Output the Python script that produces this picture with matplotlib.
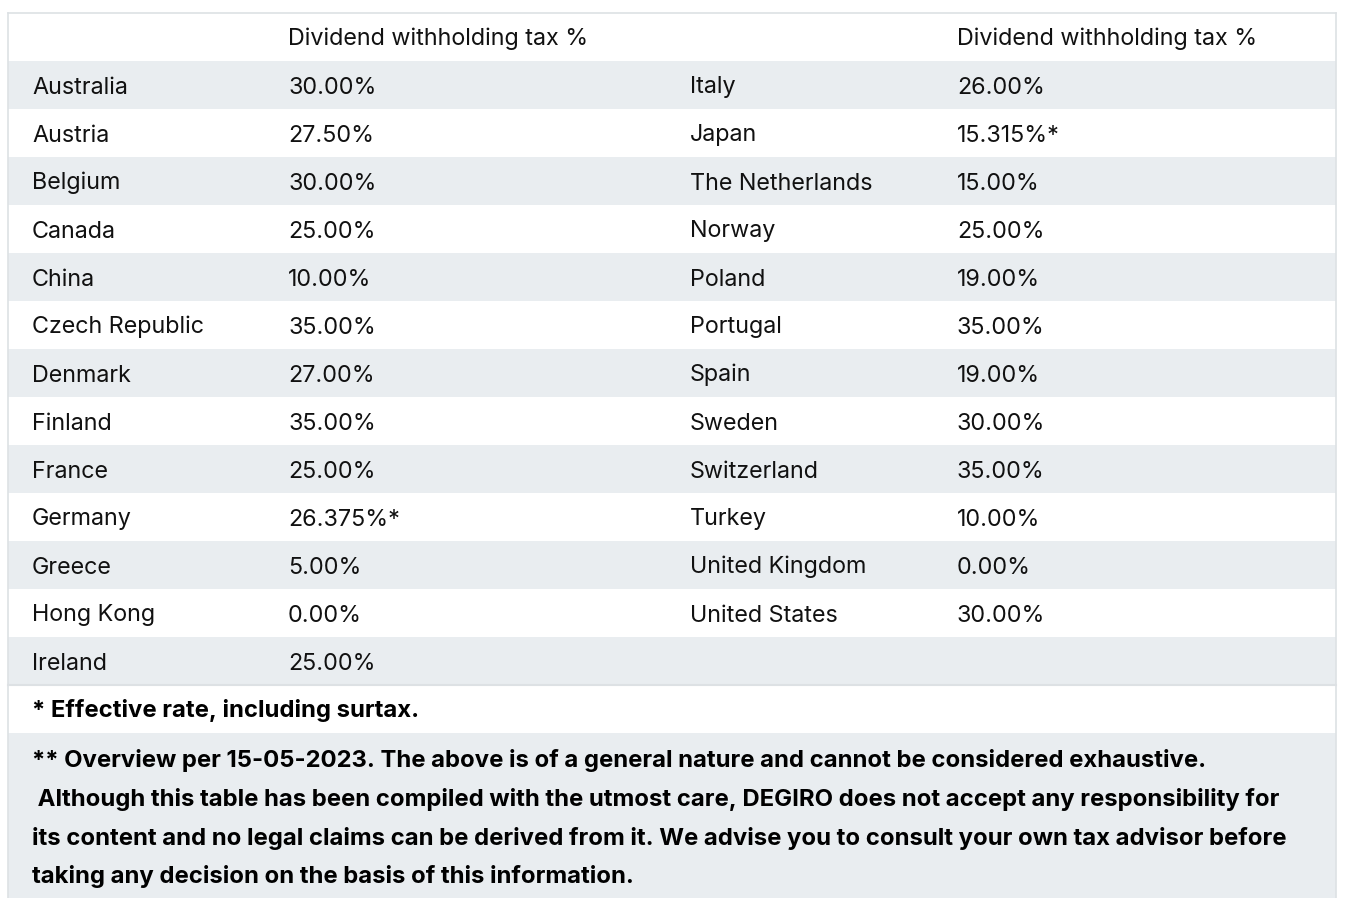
import matplotlib.pyplot as plt
from matplotlib.patches import Rectangle

plt.rcParams['font.family'] = ['Inter', 'DejaVu Sans']

header = 'Dividend withholding tax %'
left_countries = ['Australia', 'Austria', 'Belgium', 'Canada', 'China', 'Czech Republic',
                  'Denmark', 'Finland', 'France', 'Germany', 'Greece', 'Hong Kong', 'Ireland']
left_rates = ['30.00%', '27.50%', '30.00%', '25.00%', '10.00%', '35.00%',
              '27.00%', '35.00%', '25.00%', '26.375%*', '5.00%', '0.00%', '25.00%']
right_countries = ['Italy', 'Japan', 'The Netherlands', 'Norway', 'Poland', 'Portugal',
                   'Spain', 'Sweden', 'Switzerland', 'Turkey', 'United Kingdom', 'United States']
right_rates = ['26.00%', '15.315%*', '15.00%', '25.00%', '19.00%', '35.00%',
               '19.00%', '30.00%', '35.00%', '10.00%', '0.00%', '30.00%']
note1 = '* Effective rate, including surtax.'
note2 = ['** Overview per 15-05-2023. The above is of a general nature and cannot be considered exhaustive.',
         ' Although this table has been compiled with the utmost care, DEGIRO does not accept any responsibility for',
         'its content and no legal claims can be derived from it. We advise you to consult your own tax advisor before',
         'taking any decision on the basis of this information.']

W, H = 1348, 898
fig = plt.figure(figsize=(W / 100, H / 100), dpi=100)
ax = fig.add_axes([0, 0, 1, 1])
ax.set_xlim(0, W)
ax.set_ylim(H, 0)
ax.axis('off')

gray = '#e9edf0'
border = '#dde1e4'
x0, x1 = 7.5, 1335.5
top = 12.5
rh = 48
cols = [32, 288, 690, 957]
fs = 16.8
fsb = 17.2
base = 33  # baseline offset inside a row

# header
ax.add_patch(Rectangle((x0, top), x1 - x0, rh, facecolor='white', edgecolor='none'))
ax.text(cols[1], top + base, header, fontsize=fs, va='baseline', color='#111')
ax.text(cols[3], top + base, header, fontsize=fs, va='baseline', color='#111')

for i in range(len(left_countries)):
    y = top + rh * (i + 1)
    fc = gray if i % 2 == 0 else 'white'
    ax.add_patch(Rectangle((x0, y), x1 - x0, rh, facecolor=fc, edgecolor='none'))
    yc = y + base
    ax.text(cols[0], yc, left_countries[i], fontsize=fs, va='baseline', color='#111')
    ax.text(cols[1], yc, left_rates[i], fontsize=fs, va='baseline', color='#111')
    if i < len(right_countries):
        ax.text(cols[2], yc, right_countries[i], fontsize=fs, va='baseline', color='#111')
        ax.text(cols[3], yc, right_rates[i], fontsize=fs, va='baseline', color='#111')

yb = top + rh * (len(left_countries) + 1)
ax.plot([x0, x1], [yb, yb], color=border, lw=1.5)

# footnotes
ax.text(cols[0], yb + base, note1, fontsize=fsb, va='baseline', fontweight='bold', color='#000')
yf = yb + rh
ax.add_patch(Rectangle((x0, yf), x1 - x0, H - yf + 5, facecolor=gray, edgecolor='none'))
for j, line in enumerate(note2):
    ax.text(cols[0], yf + 35 + j * 38.5, line, fontsize=fsb, va='baseline', fontweight='bold', color='#000')

# outer border
ax.plot([x0, x0], [top, H], color=border, lw=1.2)
ax.plot([x1, x1], [top, H], color=border, lw=1.2)
ax.plot([x0, x1], [top, top], color=border, lw=1.2)

fig.savefig('out.png', dpi=100)
